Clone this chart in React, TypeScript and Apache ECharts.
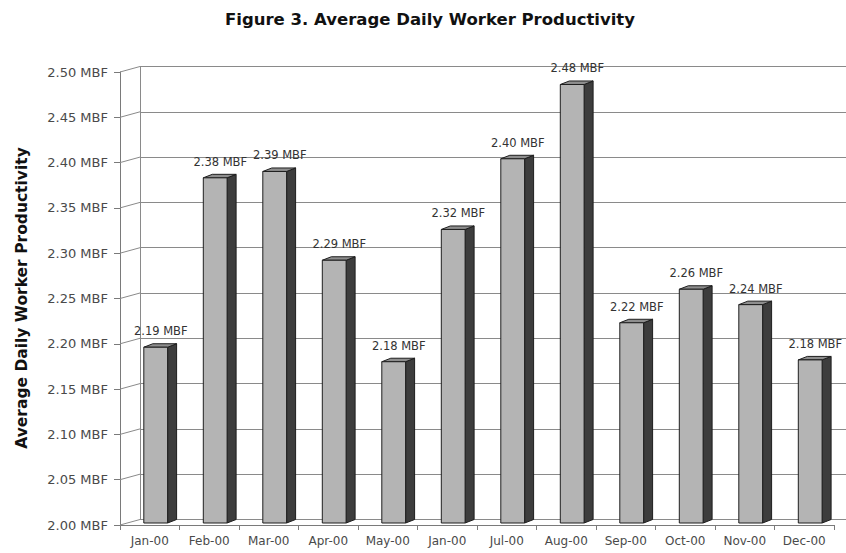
import React, { useEffect, useRef } from "react";
import * as echarts from "echarts";

const categories = ["Jan-00", "Feb-00", "Mar-00", "Apr-00", "May-00", "Jan-00 ", "Jul-00", "Aug-00", "Sep-00", "Oct-00", "Nov-00", "Dec-00"];
const productivity = [2.194, 2.381, 2.388, 2.29, 2.178, 2.324, 2.402, 2.484, 2.221, 2.258, 2.241, 2.18];
const yTicks = [2.0, 2.05, 2.1, 2.15, 2.2, 2.25, 2.3, 2.35, 2.4, 2.45, 2.5];
const Y_MIN = 2.0;
const Y_MAX = 2.5;
const Y_STEP = 0.05;
const titleText = "Figure 3. Average Daily Worker Productivity";
const yTitleText = "Average Daily Worker Productivity";
const unit = " MBF";

const FONT = "DejaVu Sans";
const WALL_DX = 20;
const WALL_DY = 5.5;

export default function App() {
  const ref = useRef<HTMLDivElement>(null);
  useEffect(() => {
    if (!ref.current) return;
    const chart = echarts.init(ref.current, null, { renderer: "svg" });
    const fmt = (v: number) => v.toFixed(2) + unit;
    const option: any = {
      animation: false,
      backgroundColor: "#ffffff",
      grid: [
        { left: 120, right: 12, top: 72, bottom: 28 },
        { left: 120 + WALL_DX, right: 0, top: 72 - WALL_DY, bottom: 28 + WALL_DY },
      ],
      xAxis: [
        {
          type: "category",
          gridIndex: 0,
          data: categories,
          boundaryGap: true,
          axisLine: { show: true, lineStyle: { color: "#7a7a7a", width: 1 } },
          axisTick: { show: true, length: 5, interval: 0, lineStyle: { color: "#7a7a7a" } },
          axisLabel: { color: "#4a4a4a", fontSize: 12, fontFamily: FONT, margin: 10, interval: 0, formatter: (s: string) => s.trim() },
          splitLine: { show: false },
        },
        {
          type: "category",
          gridIndex: 1,
          data: categories,
          show: false,
        },
      ],
      yAxis: [
        {
          type: "value",
          gridIndex: 0,
          min: Y_MIN,
          max: Y_MAX,
          interval: Y_STEP,
          axisLine: { show: true, lineStyle: { color: "#7a7a7a", width: 1 } },
          axisTick: { show: true, length: 6, lineStyle: { color: "#7a7a7a" } },
          axisLabel: { color: "#4a4a4a", fontSize: 13, fontFamily: FONT, margin: 12, formatter: (v: number) => fmt(v) },
          splitLine: { show: false },
        },
        {
          type: "value",
          gridIndex: 1,
          min: Y_MIN,
          max: Y_MAX,
          interval: Y_STEP,
          axisLine: { show: true, lineStyle: { color: "#8a8a8a", width: 1 } },
          axisTick: { show: false },
          axisLabel: { show: false },
          splitLine: { show: true, lineStyle: { color: "#8a8a8a", width: 1 } },
        },
      ],
      graphic: [
        {
          type: "text",
          x: 430,
          y: 19,
          style: {
            text: titleText,
            font: `bold 16.5px "${FONT}"`,
            fill: "#111",
            textAlign: "center",
            textVerticalAlign: "middle",
          },
        },
        {
          type: "text",
          x: 22,
          y: 298,
          rotation: Math.PI / 2,
          style: {
            text: yTitleText,
            font: `bold 15.5px "${FONT}"`,
            fill: "#111",
            textAlign: "center",
            textVerticalAlign: "middle",
          },
        },
      ],
      series: [
        {
          type: "custom",
          xAxisIndex: 0,
          yAxisIndex: 0,
          silent: true,
          z: 1,
          data: yTicks.map((t) => [0, t]),
          renderItem: (params: any, api: any) => {
            const y = api.coord([0, api.value(1)])[1];
            const x0 = params.coordSys.x;
            return {
              type: "line",
              shape: { x1: x0, y1: y, x2: x0 + WALL_DX, y2: y - WALL_DY },
              style: { stroke: "#8a8a8a", lineWidth: 1 },
            };
          },
        },
        {
          type: "custom",
          xAxisIndex: 0,
          yAxisIndex: 0,
          silent: true,
          z: 3,
          data: productivity.map((v, i) => [i, v]),
          renderItem: (params: any, api: any) => {
            const i = api.value(0);
            const v = api.value(1);
            const top = api.coord([i, v]);
            const base = api.coord([i, Y_MIN]);
            const band = api.size([1, 0])[0];
            const cx = top[0];
            const x0 = cx - band * 0.1;
            const x1 = x0 + band * 0.4;
            const yT = top[1] - 2;
            const yB = base[1] - 2;
            const dx = 9;
            const dy = 3.5;
            const label = fmt(v);
            return {
              type: "group",
              children: [
                {
                  type: "polygon",
                  shape: { points: [[x1, yT], [x1 + dx, yT - dy], [x1 + dx, yB - dy], [x1, yB]] },
                  style: { fill: "#3d3d3d", stroke: "#1e1e1e", lineWidth: 1 },
                },
                {
                  type: "polygon",
                  shape: { points: [[x0, yT], [x1, yT], [x1 + dx, yT - dy], [x0 + dx, yT - dy]] },
                  style: { fill: "#8e8e8e", stroke: "#1e1e1e", lineWidth: 1 },
                },
                {
                  type: "rect",
                  shape: { x: x0, y: yT, width: x1 - x0, height: yB - yT },
                  style: { fill: "#b4b4b4", stroke: "#1e1e1e", lineWidth: 1 },
                },
                {
                  type: "text",
                  x: cx + 11,
                  y: yT - 16,
                  style: {
                    text: label,
                    fill: "#333333",
                    fontSize: 11.5,
                    fontFamily: FONT,
                    align: "center",
                    verticalAlign: "middle",
                    textAlign: "center",
                    textVerticalAlign: "middle",
                  },
                },
              ],
            };
          },
        },
      ],
    };
    chart.setOption(option);
    return () => chart.dispose();
  }, []);
  return <div ref={ref} style={{ position: "fixed", left: 0, top: 0, width: 846, height: 553 }} />;
}
